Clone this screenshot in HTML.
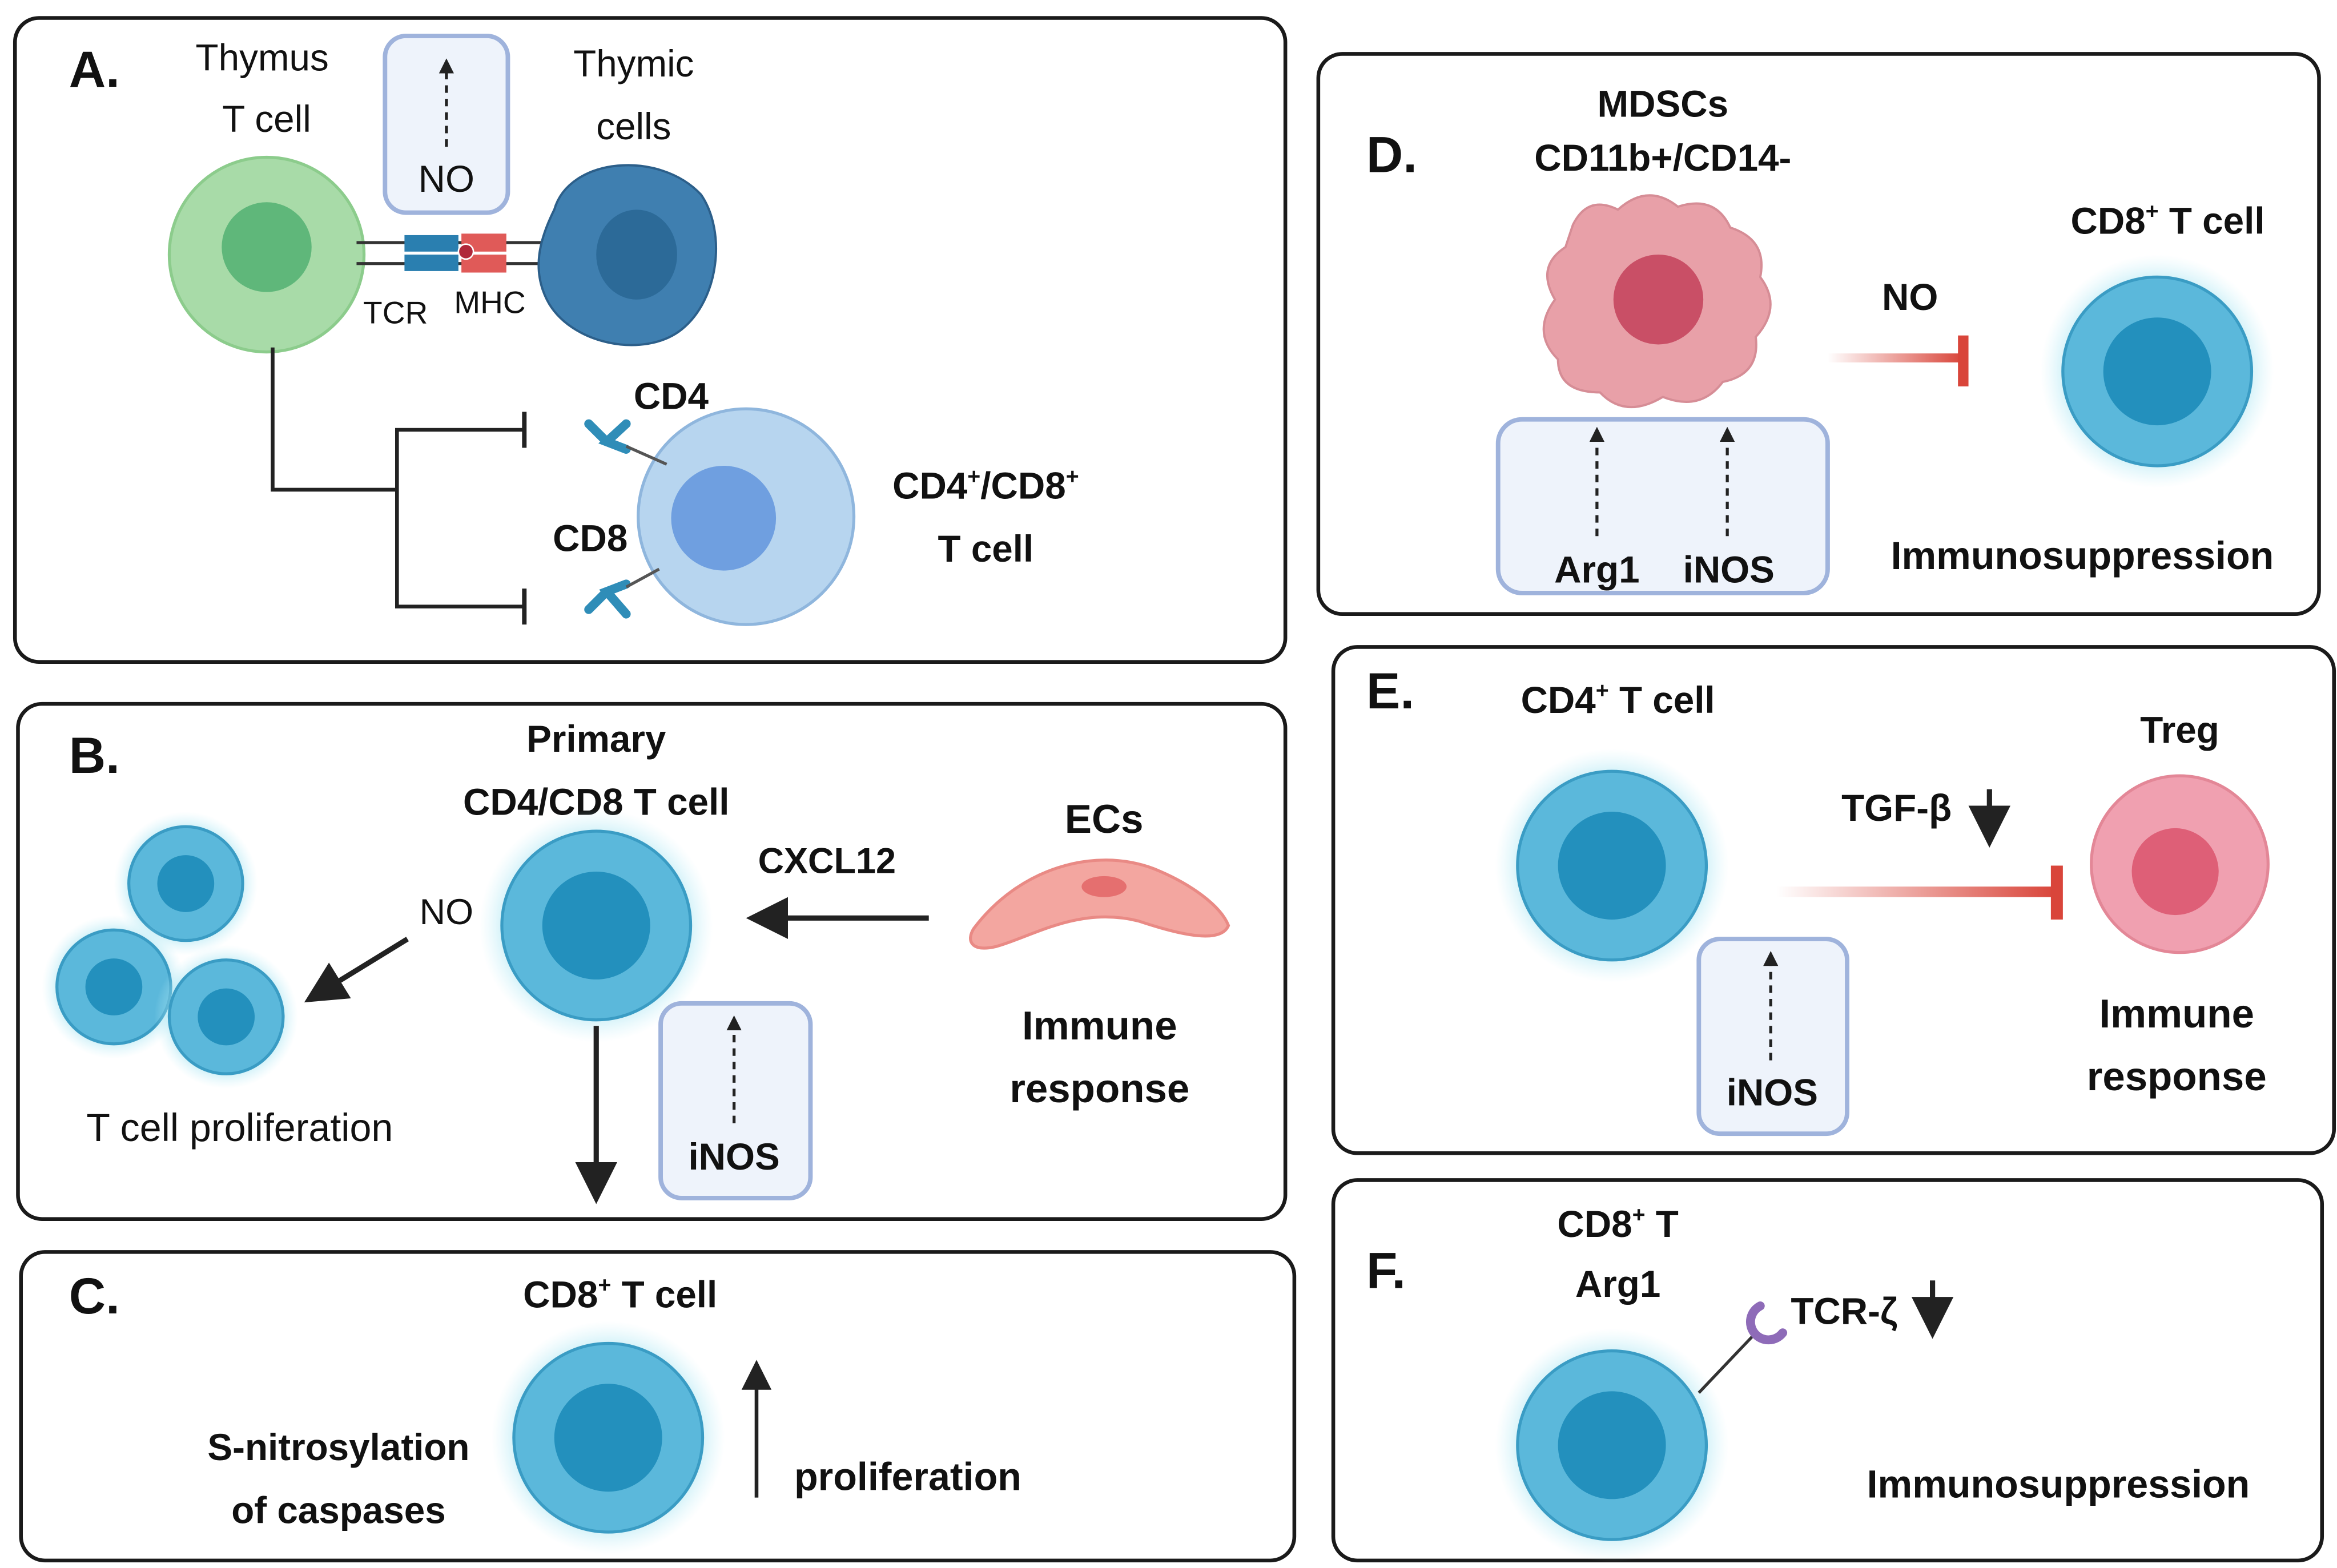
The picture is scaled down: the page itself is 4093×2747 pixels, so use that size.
<!DOCTYPE html>
<html><head><meta charset="utf-8"><style>
html,body{margin:0;padding:0;background:#fff;}
svg{display:block;}
text{font-family:"Liberation Sans",sans-serif;fill:#111;}
</style></head><body>
<svg width="4093" height="2747" viewBox="0 0 1560 1047" preserveAspectRatio="none" xmlns="http://www.w3.org/2000/svg">
<defs>
<radialGradient id="glow"><stop offset="0.6" stop-color="#7fd6ea" stop-opacity="0.9"/><stop offset="1" stop-color="#bfeef8" stop-opacity="0"/></radialGradient>
<linearGradient id="redfade" x1="0" x2="1"><stop offset="0" stop-color="#d9453a" stop-opacity="0"/><stop offset="1" stop-color="#d9453a"/></linearGradient>
<marker id="ah" markerWidth="8" markerHeight="8" refX="4" refY="4" orient="auto" markerUnits="strokeWidth"><path d="M0,0 L8,4 L0,8 z" fill="#222"/></marker>
<marker id="ahs" markerWidth="10" markerHeight="10" refX="5" refY="5" orient="auto" markerUnits="userSpaceOnUse"><path d="M0,0 L10,5 L0,10 z" fill="#222"/></marker>
<g id="tcell"><circle r="78" fill="url(#glow)"/><circle r="63" fill="#5bb8db" stroke="#3a9cc4" stroke-width="2"/><circle r="36" fill="#2390bd"/></g>
<g id="tcells"><circle r="48" fill="url(#glow)"/><circle r="38" fill="#5bb8db" stroke="#3a9cc4" stroke-width="2"/><circle r="19" fill="#2390bd"/></g>
</defs>
<g fill="none" stroke="#1a1a1a" stroke-width="2.5">
<rect x="10" y="12" width="848" height="430" rx="16"/>
<rect x="12" y="470" width="846" height="344" rx="16"/>
<rect x="14" y="836" width="850" height="206" rx="16"/>
<rect x="880" y="36" width="668" height="374" rx="16"/>
<rect x="890" y="432" width="668" height="338" rx="16"/>
<rect x="890" y="788" width="660" height="254" rx="16"/>
</g>

<!-- Panel A -->
<text x="46" y="58" font-size="34" font-weight="bold">A.</text>
<text x="175" y="47" font-size="25" text-anchor="middle">Thymus</text>
<text x="178" y="88" font-size="25" text-anchor="middle">T cell</text>
<text x="423" y="51" font-size="25" text-anchor="middle">Thymic</text>
<text x="423" y="93" font-size="25" text-anchor="middle">cells</text>
<rect x="257" y="24" width="82" height="118" rx="14" fill="#eef3fb" stroke="#9fb3dc" stroke-width="3"/>
<line x1="298" y1="98" x2="298" y2="44" stroke="#222" stroke-width="2" stroke-dasharray="5,4" marker-end="url(#ahs)"/>
<text x="298" y="128" font-size="25" text-anchor="middle">NO</text>
<circle cx="178" cy="170" r="65" fill="#a8dba8" stroke="#8ccc8c" stroke-width="2"/>
<circle cx="178" cy="165" r="30" fill="#5fb77a"/>
<line x1="238" y1="162" x2="370" y2="162" stroke="#333" stroke-width="2"/>
<line x1="238" y1="176" x2="370" y2="176" stroke="#333" stroke-width="2"/>
<rect x="270" y="157" width="36" height="11" fill="#2a7fb0"/><rect x="270" y="170" width="36" height="11" fill="#2a7fb0"/>
<rect x="308" y="156" width="30" height="12" fill="#e05a58"/><rect x="308" y="170" width="30" height="12" fill="#e05a58"/>
<circle cx="311" cy="168" r="5" fill="#b0283a" stroke="#fff"/>
<path d="M370,140 C380,105 440,100 468,130 C485,155 480,200 455,220 C430,240 380,230 365,200 C355,180 360,160 370,140 Z" fill="#3f7fb0" stroke="#2c5f8a" stroke-width="1.5"/>
<ellipse cx="425" cy="170" rx="27" ry="30" fill="#2c6a98"/>
<text x="264" y="216" font-size="21" text-anchor="middle">TCR</text>
<text x="327" y="209" font-size="21" text-anchor="middle">MHC</text>
<polyline points="182,232 182,327 265,327" fill="none" stroke="#222" stroke-width="2.5"/>
<polyline points="350,287 265,287 265,405 350,405" fill="none" stroke="#222" stroke-width="2.5"/>
<line x1="350" y1="275" x2="350" y2="299" stroke="#222" stroke-width="3"/>
<line x1="350" y1="393" x2="350" y2="417" stroke="#222" stroke-width="3"/>
<circle cx="498" cy="345" r="72" fill="#b7d5ef" stroke="#8fb6dd" stroke-width="2"/>
<circle cx="483" cy="346" r="35" fill="#6f9fe0"/>
<g stroke="#2f8db8" stroke-width="6" fill="none" stroke-linecap="round">
<path d="M393,283 L405,295 M418,283 L405,295 L418,300"/>
<path d="M393,407 L405,395 M418,410 L405,395 L418,390"/>
</g>
<line x1="418" y1="298" x2="445" y2="310" stroke="#555" stroke-width="2"/>
<line x1="418" y1="392" x2="440" y2="380" stroke="#555" stroke-width="2"/>
<text x="448" y="273" font-size="25" font-weight="bold" text-anchor="middle">CD4</text>
<text x="394" y="368" font-size="25" font-weight="bold" text-anchor="middle">CD8</text>
<text x="658" y="333" font-size="25" font-weight="bold" text-anchor="middle">CD4<tspan font-size="15" dy="-10">+</tspan><tspan dy="10">/CD8</tspan><tspan font-size="15" dy="-10">+</tspan></text>
<text x="658" y="375" font-size="25" font-weight="bold" text-anchor="middle">T cell</text>

<!-- Panel B -->
<text x="46" y="516" font-size="34" font-weight="bold">B.</text>
<text x="398" y="502" font-size="25" font-weight="bold" text-anchor="middle">Primary</text>
<text x="398" y="544" font-size="25" font-weight="bold" text-anchor="middle">CD4/CD8 T cell</text>
<use href="#tcell" x="398" y="618"/>
<use href="#tcells" x="124" y="590"/>
<use href="#tcells" x="76" y="659"/>
<use href="#tcells" x="151" y="679"/>
<text x="298" y="617" font-size="24" text-anchor="middle">NO</text>
<line x1="272" y1="627" x2="215" y2="662" stroke="#222" stroke-width="3.5" marker-end="url(#ah)"/>
<text x="160" y="762" font-size="26" text-anchor="middle">T cell proliferation</text>
<text x="552" y="583" font-size="24" font-weight="bold" text-anchor="middle">CXCL12</text>
<line x1="620" y1="613" x2="512" y2="613" stroke="#222" stroke-width="3.5" marker-end="url(#ah)"/>
<line x1="398" y1="685" x2="398" y2="790" stroke="#222" stroke-width="3.5" marker-end="url(#ah)"/>
<rect x="441" y="670" width="100" height="130" rx="14" fill="#eef3fb" stroke="#9fb3dc" stroke-width="3"/>
<line x1="490" y1="750" x2="490" y2="683" stroke="#222" stroke-width="2" stroke-dasharray="5,4" marker-end="url(#ahs)"/>
<text x="490" y="781" font-size="25" font-weight="bold" text-anchor="middle">iNOS</text>
<text x="737" y="556" font-size="27" font-weight="bold" text-anchor="middle">ECs</text>
<path d="M650,620 C680,580 730,565 770,580 C795,590 815,605 820,618 C815,630 790,625 760,615 C720,605 690,625 665,632 C648,636 645,628 650,620 Z" fill="#f3a6a0" stroke="#e98a85" stroke-width="2"/>
<ellipse cx="737" cy="592" rx="15" ry="7" fill="#e56f6f"/>
<text x="734" y="694" font-size="27" font-weight="bold" text-anchor="middle">Immune</text>
<text x="734" y="736" font-size="27" font-weight="bold" text-anchor="middle">response</text>

<!-- Panel C -->
<text x="46" y="877" font-size="34" font-weight="bold">C.</text>
<text x="414" y="873" font-size="25" font-weight="bold" text-anchor="middle">CD8<tspan font-size="15" dy="-10">+</tspan><tspan dy="10"> T cell</tspan></text>
<use href="#tcell" x="406" y="960"/>
<text x="226" y="975" font-size="25" font-weight="bold" text-anchor="middle">S-nitrosylation</text>
<text x="226" y="1017" font-size="25" font-weight="bold" text-anchor="middle">of caspases</text>
<line x1="505" y1="1000" x2="505" y2="918" stroke="#222" stroke-width="2.5" marker-end="url(#ah)"/>
<text x="606" y="995" font-size="26" font-weight="bold" text-anchor="middle">proliferation</text>

<!-- Panel D -->
<text x="912" y="115" font-size="34" font-weight="bold">D.</text>
<text x="1110" y="78" font-size="25" font-weight="bold" text-anchor="middle">MDSCs</text>
<text x="1110" y="114" font-size="25" font-weight="bold" text-anchor="middle">CD11b+/CD14-</text>
<path d="M1050,150 Q1060,130 1080,140 Q1100,122 1120,138 Q1145,130 1155,152 Q1180,160 1175,185 Q1190,205 1172,225 Q1175,250 1150,255 Q1135,275 1110,265 Q1085,280 1068,262 Q1040,262 1040,240 Q1022,222 1038,200 Q1025,178 1045,165 Z" fill="#e8a0a8" stroke="#d68d96" stroke-width="1.5"/>
<circle cx="1107" cy="200" r="30" fill="#c94f66"/>
<rect x="1000" y="280" width="220" height="116" rx="16" fill="#eef3fb" stroke="#9fb3dc" stroke-width="3"/>
<line x1="1066" y1="358" x2="1066" y2="290" stroke="#222" stroke-width="2" stroke-dasharray="5,4" marker-end="url(#ahs)"/>
<line x1="1153" y1="358" x2="1153" y2="290" stroke="#222" stroke-width="2" stroke-dasharray="5,4" marker-end="url(#ahs)"/>
<text x="1066" y="389" font-size="25" font-weight="bold" text-anchor="middle">Arg1</text>
<text x="1154" y="389" font-size="25" font-weight="bold" text-anchor="middle">iNOS</text>
<text x="1275" y="207" font-size="25" font-weight="bold" text-anchor="middle">NO</text>
<rect x="1220" y="236" width="90" height="6" fill="url(#redfade)"/>
<rect x="1307" y="224" width="7" height="34" fill="#d9453a"/>
<text x="1447" y="156" font-size="25" font-weight="bold" text-anchor="middle">CD8<tspan font-size="15" dy="-10">+</tspan><tspan dy="10"> T cell</tspan></text>
<use href="#tcell" x="1440" y="248"/>
<text x="1390" y="380" font-size="26" font-weight="bold" text-anchor="middle">Immunosuppression</text>

<!-- Panel E -->
<text x="912" y="473" font-size="34" font-weight="bold">E.</text>
<text x="1080" y="476" font-size="25" font-weight="bold" text-anchor="middle">CD4<tspan font-size="15" dy="-10">+</tspan><tspan dy="10"> T cell</tspan></text>
<use href="#tcell" x="1076" y="578"/>
<text x="1266" y="548" font-size="25" font-weight="bold" text-anchor="middle">TGF-β</text>
<line x1="1328" y1="527" x2="1328" y2="552" stroke="#222" stroke-width="3.5" marker-end="url(#ah)"/>
<rect x="1186" y="592" width="186" height="7" fill="url(#redfade)"/>
<rect x="1369" y="578" width="8" height="36" fill="#d9453a"/>
<rect x="1134" y="627" width="99" height="130" rx="14" fill="#eef3fb" stroke="#9fb3dc" stroke-width="3"/>
<line x1="1182" y1="708" x2="1182" y2="640" stroke="#222" stroke-width="2" stroke-dasharray="5,4" marker-end="url(#ahs)"/>
<text x="1183" y="738" font-size="25" font-weight="bold" text-anchor="middle">iNOS</text>
<text x="1455" y="496" font-size="25" font-weight="bold" text-anchor="middle">Treg</text>
<circle cx="1455" cy="577" r="59" fill="#f0a0b0" stroke="#e38797" stroke-width="2"/>
<circle cx="1452" cy="582" r="29" fill="#de5f77"/>
<text x="1453" y="686" font-size="27" font-weight="bold" text-anchor="middle">Immune</text>
<text x="1453" y="728" font-size="27" font-weight="bold" text-anchor="middle">response</text>

<!-- Panel F -->
<text x="912" y="860" font-size="34" font-weight="bold">F.</text>
<text x="1080" y="826" font-size="25" font-weight="bold" text-anchor="middle">CD8<tspan font-size="15" dy="-10">+</tspan><tspan dy="10"> T</tspan></text>
<text x="1080" y="866" font-size="25" font-weight="bold" text-anchor="middle">Arg1</text>
<use href="#tcell" x="1076" y="965"/>
<line x1="1134" y1="930" x2="1172" y2="890" stroke="#333" stroke-width="2"/>
<path d="M1175,872 A12,12 0 1 0 1190,890" fill="none" stroke="#8e6bb8" stroke-width="6" stroke-linecap="round"/>
<text x="1231" y="884" font-size="25" font-weight="bold" text-anchor="middle">TCR-ζ</text>
<line x1="1290" y1="855" x2="1290" y2="880" stroke="#222" stroke-width="3.5" marker-end="url(#ah)"/>
<text x="1374" y="1000" font-size="26" font-weight="bold" text-anchor="middle">Immunosuppression</text>
</svg>
</body></html>
